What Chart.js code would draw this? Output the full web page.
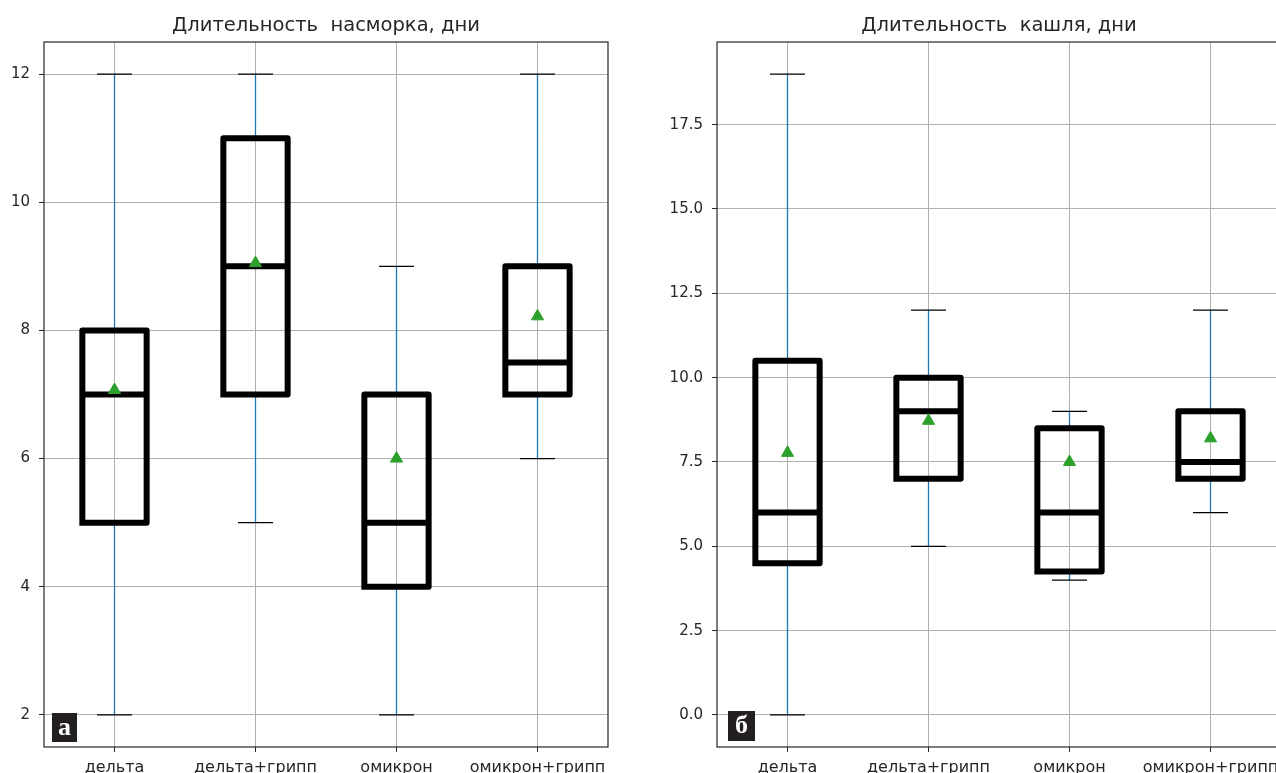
<!DOCTYPE html>
<html>
<head>
<meta charset="utf-8">
<script src="https://cdn.jsdelivr.net/npm/chart.js@4.4.1/dist/chart.umd.min.js"></script>
<style>
  html, body { margin: 0; padding: 0; background: #fff; overflow: hidden; width: 1276px; height: 773px; }
  .panel { position: absolute; top: 0; }
  .tag {
    position: absolute; background: #231f20; color: #fff;
    font-family: "Liberation Serif", "DejaVu Serif", serif; font-weight: bold;
    font-size: 26px; line-height: 27px; text-align: center;
  }
</style>
</head>
<body>
<canvas id="runny" class="panel" width="652" height="773" style="left:0px"></canvas>
<canvas id="cough" class="panel" width="684" height="773" style="left:657px"></canvas>
<div class="tag" style="left:52px;top:713px;width:25px;height:29px;">а</div>
<div class="tag" style="left:728px;top:711px;width:27px;height:30px;">б</div>
<script>
// Groups on the horizontal axis
const categories = ['дельта', 'дельта+грипп', 'омикрон', 'омикрон+грипп'];

// Runny nose duration, days
const runnyWhiskerLow  = [2, 5, 2, 6];
const runnyQ1          = [5, 7, 4, 7];
const runnyMedian      = [7, 9, 5, 7.5];
const runnyQ3          = [8, 11, 7, 9];
const runnyWhiskerHigh = [12, 12, 9, 12];
const runnyMean        = [7.07, 9.05, 6.0, 8.22];
const runnyTicks       = [2, 4, 6, 8, 10, 12];

// Cough duration, days
const coughWhiskerLow  = [0, 5, 4, 6];
const coughQ1          = [4.5, 7, 4.25, 7];
const coughMedian      = [6, 9, 6, 7.5];
const coughQ3          = [10.5, 10, 8.5, 9];
const coughWhiskerHigh = [19, 12, 9, 12];
const coughMean        = [7.77, 8.72, 7.5, 8.2];
const coughTicks       = [0, 2.5, 5, 7.5, 10, 12.5, 15, 17.5];

const BOX_HALF = 0.228;   // half box width, in category units
const CAP_HALF = 0.124;   // half whisker-cap width
const FONT = 'DejaVu Sans';
const INK = '#262626';

const gap = x => ({ x: x, y: null });

function boxOutlines(q1, q3) {
  const pts = [];
  q1.forEach((lo, i) => {
    const x = i + 1, hi = q3[i];
    pts.push({ x: x - BOX_HALF, y: lo }, { x: x + BOX_HALF, y: lo },
             { x: x + BOX_HALF, y: hi }, { x: x - BOX_HALF, y: hi },
             { x: x - BOX_HALF, y: lo }, gap(x));
  });
  return pts;
}
function hSegments(vals, half) {
  const pts = [];
  vals.forEach((v, i) => {
    const x = i + 1;
    pts.push({ x: x - half, y: v }, { x: x + half, y: v }, gap(x));
  });
  return pts;
}
function whiskers(low, q1, q3, high) {
  const pts = [];
  low.forEach((lo, i) => {
    const x = i + 1;
    pts.push({ x, y: lo }, { x, y: q1[i] }, gap(x), { x, y: q3[i] }, { x, y: high[i] }, gap(x));
  });
  return pts;
}

// Frame around the plotting area
const framePlugin = {
  id: 'frame',
  afterDatasetsDraw(chart) {
    const { ctx, chartArea: a } = chart;
    ctx.save();
    ctx.strokeStyle = INK;
    ctx.lineWidth = 1.2;
    ctx.strokeRect(a.left, a.top, a.right - a.left, a.bottom - a.top);
    ctx.restore();
  }
};

function makeChart(id, title, s, yMin, yMax, yTicks, yWidth, fmt) {
  const line = (data, color, width, order, extra) => Object.assign({
    type: 'line', data, borderColor: color, backgroundColor: color,
    borderWidth: width, pointRadius: 0, pointHoverRadius: 0, tension: 0,
    spanGaps: false, fill: false, order
  }, extra || {});

  const gridOpts = { color: '#b0b0b0', lineWidth: 1, drawTicks: true, tickLength: 5, tickColor: INK, tickWidth: 1 };

  return new Chart(document.getElementById(id), {
    type: 'line',
    data: {
      datasets: [
        {
          type: 'scatter', data: s.mean.map((v, i) => ({ x: i + 1, y: v })),
          pointStyle: 'triangle', pointRadius: 7, pointHoverRadius: 7,
          backgroundColor: '#2ca02c', borderColor: '#2ca02c', borderWidth: 1, order: 0
        },
        line(hSegments(s.median, BOX_HALF), '#000', 6, 1, { borderCapStyle: 'butt' }),
        line(boxOutlines(s.q1, s.q3), '#000', 6, 2, { borderCapStyle: 'square', borderJoinStyle: 'round' }),
        line(hSegments(s.low, CAP_HALF).concat(hSegments(s.high, CAP_HALF)), '#000', 1.3, 3),
        line(whiskers(s.low, s.q1, s.q3, s.high), '#1f77b4', 1.3, 4)
      ]
    },
    options: {
      responsive: false,
      animation: false,
      devicePixelRatio: 1,
      layout: { padding: 0 },
      plugins: {
        legend: { display: false },
        tooltip: { enabled: false },
        title: {
          display: true, text: title, color: INK,
          font: { family: FONT, size: 19.5, weight: 'normal' },
          padding: { top: 14, bottom: 4.6 }
        }
      },
      scales: {
        x: {
          type: 'linear', min: 0.5, max: 4.5,
          afterBuildTicks: ax => { ax.ticks = categories.map((c, i) => ({ value: i + 1 })); },
          afterFit: ax => { ax.height = 26; },
          border: { display: false },
          grid: gridOpts,
          ticks: {
            autoSkip: false, maxRotation: 0, padding: 6, color: INK,
            font: { family: FONT, size: 16 },
            callback: (v, i) => categories[i]
          }
        },
        y: {
          type: 'linear', min: yMin, max: yMax,
          afterBuildTicks: ax => { ax.ticks = yTicks.map(v => ({ value: v })); },
          afterFit: ax => { ax.width = yWidth; },
          border: { display: false },
          grid: gridOpts,
          ticks: {
            padding: 9, color: INK,
            font: { family: FONT, size: 15 },
            callback: v => fmt(v)
          }
        },
        // empty right-hand axis that balances the left one, so the title sits over the plot
        yBalance: {
          type: 'linear', position: 'right', min: yMin, max: yMax,
          afterFit: ax => { ax.width = yWidth; },
          border: { display: false },
          grid: { display: false },
          ticks: { display: false }
        }
      }
    },
    plugins: [framePlugin]
  });
}

makeChart('runny', 'Длительность  насморка, дни', {
  low: runnyWhiskerLow, q1: runnyQ1, median: runnyMedian, q3: runnyQ3,
  high: runnyWhiskerHigh, mean: runnyMean
}, 1.5, 12.5, runnyTicks, 44, v => String(v));

makeChart('cough', 'Длительность  кашля, дни', {
  low: coughWhiskerLow, q1: coughQ1, median: coughMedian, q3: coughQ3,
  high: coughWhiskerHigh, mean: coughMean
}, -0.95, 19.95, coughTicks, 60, v => v.toFixed(1));
</script>
</body>
</html>
